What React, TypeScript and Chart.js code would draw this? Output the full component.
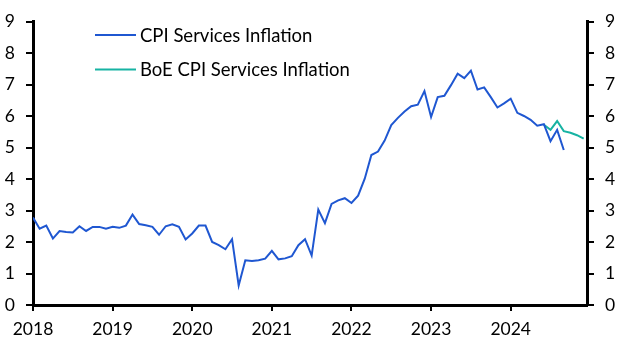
import React, { useEffect, useRef } from "react";
import { Chart, registerables } from "chart.js";

Chart.register(...registerables);

// Month index 0 = Jan 2018
const startYear = 2018;
const yearTicks = [2018, 2019, 2020, 2021, 2022, 2023, 2024];
const yTicks = [0, 1, 2, 3, 4, 5, 6, 7, 8, 9];

const cpiServices = [
  // 2018
  2.78, 2.42, 2.52, 2.11, 2.35, 2.32, 2.3, 2.5, 2.35, 2.48, 2.48, 2.42,
  // 2019
  2.48, 2.45, 2.52, 2.87, 2.57, 2.53, 2.48, 2.23, 2.5, 2.56, 2.48, 2.08,
  // 2020
  2.27, 2.52, 2.52, 2.0, 1.9, 1.77, 2.09, 0.62, 1.42, 1.4, 1.42, 1.47,
  // 2021
  1.72, 1.45, 1.48, 1.55, 1.9, 2.09, 1.57, 3.03, 2.6, 3.21, 3.32, 3.39,
  // 2022
  3.24, 3.47, 4.01, 4.76, 4.87, 5.22, 5.71, 5.94, 6.14, 6.31, 6.36, 6.79,
  // 2023
  5.97, 6.6, 6.64, 6.98, 7.34, 7.2, 7.44, 6.84, 6.91, 6.6, 6.27, 6.4,
  // 2024
  6.55, 6.1, 6.0, 5.88, 5.69, 5.74, 5.2, 5.56, 4.92,
];

const boeStartMonth = 77; // Jun 2024
const boeCpiServices = [5.72, 5.56, 5.84, 5.52, 5.47, 5.39, 5.28];

const seriesLabels = ["CPI Services Inflation", "BoE CPI Services Inflation"];
const seriesColors = ["#1f57d1", "#17b3a3"];

const FONT = "Lato, 'Open Sans', sans-serif";

const legendPlugin = {
  id: "insideLegend",
  afterDraw(chart: any) {
    const ctx = chart.ctx;
    ctx.save();
    ctx.font = `18.5px ${FONT}`;
    ctx.textBaseline = "middle";
    ctx.textAlign = "left";
    chart.data.datasets.forEach((ds: any, i: number) => {
      const y = 35 + i * 34.5;
      ctx.strokeStyle = ds.borderColor;
      ctx.lineWidth = 2;
      ctx.beginPath();
      ctx.moveTo(95, y);
      ctx.lineTo(136, y);
      ctx.stroke();
      ctx.fillStyle = "#000";
      ctx.fillText(ds.label, 140, y + 1);
    });
    ctx.restore();
  },
};

export default function App() {
  const ref = useRef<HTMLCanvasElement | null>(null);

  useEffect(() => {
    if (!ref.current) return;
    const cpiData = cpiServices.map((v, i) => ({ x: i, y: v }));
    const boeData = boeCpiServices.map((v, i) => ({ x: boeStartMonth + i, y: v }));

    const yAxis = (position: "left" | "right") => ({
      type: "linear" as const,
      position,
      min: 0,
      max: 9,
      afterBuildTicks: (s: any) => {
        s.ticks = yTicks.map((v) => ({ value: v }));
      },
      afterFit: (s: any) => {
        s.width = position === "left" ? 33 : 42;
      },
      border: { display: true, color: "#000", width: 3 },
      grid: {
        display: true,
        drawOnChartArea: false,
        drawTicks: true,
        tickLength: 7,
        color: "#000",
        lineWidth: 2,
      },
      ticks: {
        color: "#000",
        font: { family: FONT, size: 17.5 },
        padding: 11,
      },
    });

    const chart = new Chart(ref.current, {
      type: "line",
      data: {
        datasets: [
          {
            label: seriesLabels[0],
            data: cpiData,
            borderColor: seriesColors[0],
            backgroundColor: seriesColors[0],
            borderWidth: 2,
            pointRadius: 0,
            tension: 0,
          },
          {
            label: seriesLabels[1],
            data: boeData,
            borderColor: seriesColors[1],
            backgroundColor: seriesColors[1],
            borderWidth: 2,
            pointRadius: 0,
            tension: 0,
          },
        ],
      },
      options: {
        animation: false,
        responsive: false,
        maintainAspectRatio: false,
        layout: { padding: { top: 13, left: 0, right: 0, bottom: 0 } },
        plugins: {
          legend: { display: false },
          tooltip: { enabled: false },
        },
        scales: {
          x: {
            type: "linear",
            min: 0,
            max: 83.5,
            afterBuildTicks: (s: any) => {
              s.ticks = yearTicks.map((y) => ({ value: (y - startYear) * 12 }));
            },
            afterFit: (s: any) => {
              s.height = 50;
            },
            border: { display: true, color: "#000", width: 3 },
            grid: {
              display: true,
              drawOnChartArea: false,
              drawTicks: true,
              tickLength: 6,
              color: "#000",
              lineWidth: 2,
            },
            ticks: {
              color: "#000",
              font: { family: FONT, size: 17.5 },
              padding: 8,
              maxRotation: 0,
              autoSkip: false,
              callback: (v: any) => String(startYear + Math.round(Number(v) / 12)),
            },
          },
          y: yAxis("left"),
          y2: yAxis("right"),
        },
      },
      plugins: [legendPlugin],
    });
    return () => chart.destroy();
  }, []);

  return (
    <div style={{ position: "absolute", left: 0, top: 0, width: 629, height: 355, background: "#fff" }}>
      <canvas ref={ref} width={629} height={355} style={{ width: 629, height: 355 }} />
    </div>
  );
}
